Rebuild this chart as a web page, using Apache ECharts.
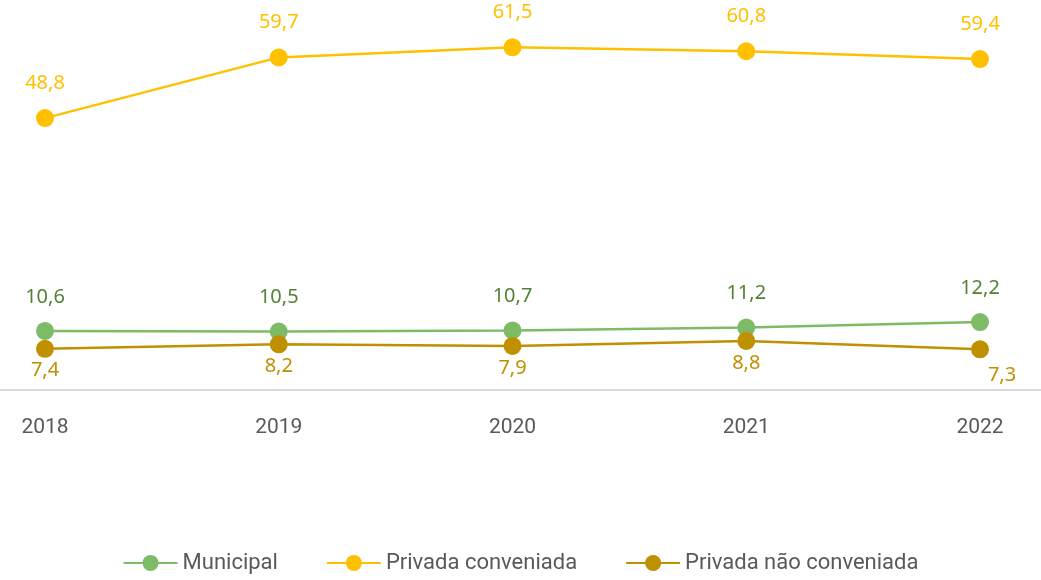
<!DOCTYPE html>
<html>
<head>
<meta charset="utf-8">
<script src="https://cdn.jsdelivr.net/npm/echarts@6/dist/echarts.min.js"></script>
<style>
html, body { margin: 0; padding: 0; background: #fff; }
#main { width: 1041px; height: 580px; }
</style>
</head>
<body>
<div id="main"></div>
<script>
var anos = ['2018', '2019', '2020', '2021', '2022'];
var municipal = [10.6, 10.5, 10.7, 11.2, 12.2];
var privadaConv = [48.8, 59.7, 61.5, 60.8, 59.4];
var privadaNaoConv = [7.4, 8.2, 7.9, 8.8, 7.3];

var fmt = function (p) { return String(p.value).replace('.', ','); };
var labelFont = 'Noto Sans';
var axisFont = 'Roboto';

// último rótulo da série marrom fica deslocado para a direita
var naoConvData = privadaNaoConv.map(function (v, i) {
    if (i === privadaNaoConv.length - 1) {
        return { value: v, label: { offset: [22, 4] } };
    }
    return v;
});

var chart = echarts.init(document.getElementById('main'));
var option = {
    backgroundColor: '#ffffff',
    // área do gráfico + uma grade só para a linha do eixo em toda a largura
    grid: [{
        left: 45,
        right: 61,
        top: 0,
        height: 390
    }, {
        left: 0,
        right: 0,
        top: 0,
        height: 390
    }],
    legend: {
        bottom: 1,
        itemWidth: 54,
        itemHeight: 20,
        itemGap: 48,
        textStyle: {
            color: '#595959',
            fontSize: 22,
            fontFamily: axisFont
        },
        data: ['Municipal', 'Privada conveniada', 'Privada não conveniada']
    },
    xAxis: [{
        type: 'category',
        boundaryGap: false,
        data: anos,
        gridIndex: 0,
        axisLine: { show: false },
        axisTick: { show: false },
        axisLabel: {
            color: '#595959',
            fontSize: 21,
            fontFamily: axisFont,
            margin: 27
        }
    }, {
        type: 'value',
        gridIndex: 1,
        min: 0,
        max: 1,
        axisLine: { show: true, lineStyle: { color: '#d9d9d9', width: 2 } },
        axisTick: { show: false },
        axisLabel: { show: false },
        splitLine: { show: false }
    }],
    yAxis: [{
        type: 'value',
        gridIndex: 0,
        min: 0,
        max: 70,
        show: false
    }, {
        type: 'value',
        gridIndex: 1,
        show: false
    }],
    series: [{
            name: 'Municipal',
            type: 'line',
            data: municipal,
            symbol: 'circle',
            symbolSize: 18,
            color: '#7dbb67',
            lineStyle: { width: 2.5 },
            z: 3,
            label: {
                show: true,
                position: 'top',
                distance: 15,
                color: '#548235',
                fontSize: 20,
                fontFamily: labelFont,
                formatter: fmt
            }
        },
        {
            name: 'Privada conveniada',
            type: 'line',
            data: privadaConv,
            symbol: 'circle',
            symbolSize: 18,
            color: '#ffc000',
            lineStyle: { width: 2.5 },
            label: {
                show: true,
                position: 'top',
                distance: 16,
                color: '#ffc000',
                fontSize: 20,
                fontFamily: labelFont,
                formatter: fmt
            }
        },
        {
            name: 'Privada não conveniada',
            type: 'line',
            data: naoConvData,
            symbol: 'circle',
            symbolSize: 18,
            color: '#bf9000',
            lineStyle: { width: 2.5 },
            z: 4,
            label: {
                show: true,
                position: 'bottom',
                distance: 3,
                color: '#bf9000',
                fontSize: 20,
                fontFamily: labelFont,
                formatter: fmt
            }
        }
    ]
};
chart.setOption(option);
</script>
</body>
</html>
